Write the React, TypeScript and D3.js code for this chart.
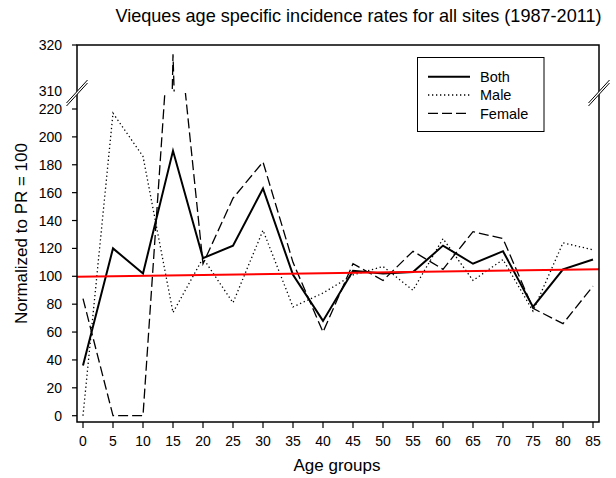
import React from "react";
import * as d3 from "d3";

const ages = [0, 5, 10, 15, 20, 25, 30, 35, 40, 45, 50, 55, 60, 65, 70, 75, 80, 85];
const both = [36, 120, 102, 190, 113, 122, 163, 101, 68, 104, 102, 103, 122, 109, 118, 78, 105, 112];
const male = [0, 217, 186, 74, 113, 81, 133, 78, 88, 101, 107, 90, 127, 97, 112, 75, 124, 119];
const female = [84, 0, 0, 318, 109, 156, 182, 110, 60, 109, 97, 118, 105, 132, 127, 77, 66, 93];
const trendAges = [-1, 86];
const trendValues = [99.7, 105];
const xTicks = [0, 5, 10, 15, 20, 25, 30, 35, 40, 45, 50, 55, 60, 65, 70, 75, 80, 85];
const yTicksLow = [0, 20, 40, 60, 80, 100, 120, 140, 160, 180, 200, 220];
const yTicksHigh = [310, 320];
const seriesNames = ["Both", "Male", "Female"];

const W = 616, H = 478;
const L = 77, R = 599, T = 45, B = 422;
const BREAK_Y = 93;
const FONT = "'Liberation Sans', Arial, sans-serif";

export default function App() {
  const x = d3.scaleLinear().domain([-1, 86]).range([L, R]);
  const yLow = d3.scaleLinear().domain([0, 220]).range([415.7, 109]);
  const yHigh = d3.scaleLinear().domain([310, 320]).range([91.4, 45]);

  const styles = [
    { width: 2, dash: undefined as string | undefined },
    { width: 1.3, dash: "1.3,2.7" },
    { width: 1.3, dash: "10,4" },
  ];
  const data = [both, male, female];

  const mkLine = (ys: d3.ScaleLinear<number, number>) =>
    d3.line<number>().x((_, i) => x(ages[i])).y((v) => ys(v));

  const tickY = (v: number) => (v >= 300 ? yHigh(v) : yLow(v));

  const brk = (cx: number, cy: number, key: string) => {
    const dx = 10.5, dy = 11.5, off = 3;
    return (
      <g key={key}>
        <polygon
          points={`${cx - dx},${cy + dy} ${cx + dx},${cy - dy} ${cx + dx},${cy - dy + off} ${cx - dx},${cy + dy + off}`}
          fill="white"
        />
        <line x1={cx - dx} y1={cy + dy} x2={cx + dx} y2={cy - dy} stroke="black" strokeWidth={1} />
        <line x1={cx - dx} y1={cy + dy + off} x2={cx + dx} y2={cy - dy + off} stroke="black" strokeWidth={1} />
      </g>
    );
  };

  return (
    <svg width={W} height={H} style={{ position: "absolute", left: 0, top: 0, background: "white" }} fontFamily={FONT}>
      <defs>
        <clipPath id="clipLow">
          <rect x={L} y={BREAK_Y} width={R - L} height={B - BREAK_Y} />
        </clipPath>
        <clipPath id="clipHigh">
          <rect x={L} y={T} width={R - L} height={BREAK_Y - 1.5 - T} />
        </clipPath>
      </defs>
      <rect width={W} height={H} fill="white" />
      <text x={358.5} y={22} textAnchor="middle" fontSize={18.1}>
        Vieques age specific incidence rates for all sites (1987-2011)
      </text>

      {/* series */}
      <g clipPath="url(#clipLow)">
        {data.map((d, i) => (
          <path key={i} d={mkLine(yLow)(d) || ""} fill="none" stroke="black"
            strokeWidth={styles[i].width} strokeDasharray={styles[i].dash} />
        ))}
        <path
          d={d3.line<number>().x((a) => x(a)).y((_, i) => yLow(trendValues[i]))(trendAges) || ""}
          fill="none" stroke="#ff0000" strokeWidth={2}
        />
      </g>
      <g clipPath="url(#clipHigh)">
        {data.map((d, i) => (
          <path key={i} d={mkLine(yHigh)(d) || ""} fill="none" stroke="black"
            strokeWidth={styles[i].width} strokeDasharray={styles[i].dash} />
        ))}
      </g>

      {/* frame */}
      <rect x={L} y={T} width={R - L} height={B - T} fill="none" stroke="black" strokeWidth={1.5} />

      {/* x axis ticks */}
      {xTicks.map((t) => (
        <g key={t}>
          <line x1={x(t)} x2={x(t)} y1={B} y2={B + 6} stroke="black" strokeWidth={1.2} />
          <text x={x(t)} y={445.5} textAnchor="middle" fontSize={14}>{t}</text>
        </g>
      ))}
      {/* y axis ticks */}
      {[...yTicksLow, ...yTicksHigh].map((t) => (
        <g key={t}>
          {t !== 310 && (
            <line x1={L - 5} x2={L} y1={tickY(t)} y2={tickY(t)} stroke="black" strokeWidth={1.2} />
          )}
          <text x={62} y={tickY(t)} dy="0.36em" textAnchor="end" fontSize={14}>{t}</text>
        </g>
      ))}

      {brk(L, BREAK_Y - 1.5, "bl")}
      {brk(R, BREAK_Y - 1.5, "br")}

      <text x={337} y={471} textAnchor="middle" fontSize={17}>Age groups</text>
      <text transform={`translate(27,233.5) rotate(-90)`} textAnchor="middle" fontSize={17}>
        Normalized to PR = 100
      </text>

      {/* legend */}
      <rect x={417.5} y={57.5} width={126.5} height={74} fill="white" stroke="black" strokeWidth={1} />
      {seriesNames.map((n, i) => {
        const ly = 76.7 + i * 18.3;
        return (
          <g key={n}>
            <line x1={428} x2={470} y1={ly} y2={ly} stroke="black"
              strokeWidth={styles[i].width} strokeDasharray={styles[i].dash} />
            <text x={480} y={ly} dy="0.36em" fontSize={14.5}>{n}</text>
          </g>
        );
      })}
    </svg>
  );
}
